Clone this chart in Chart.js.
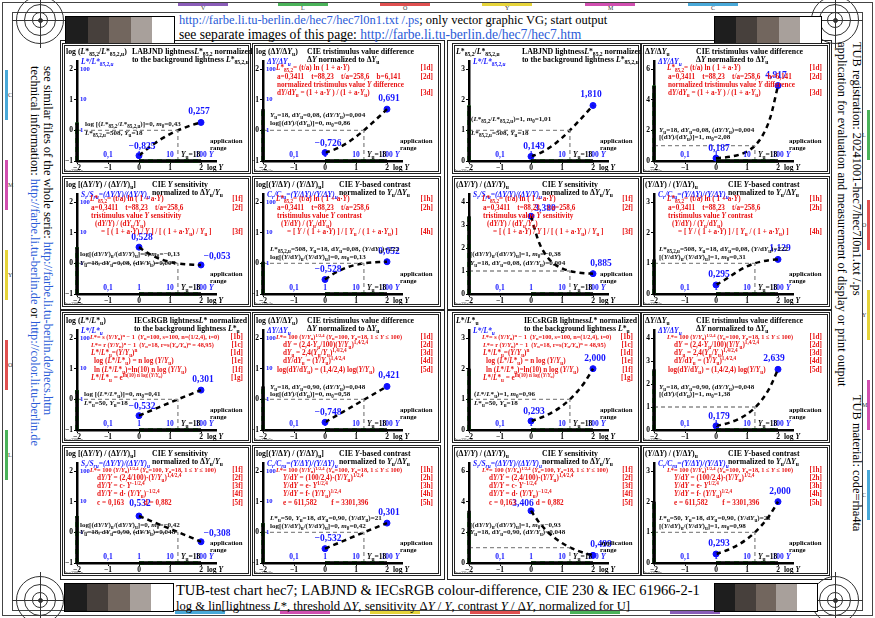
<!DOCTYPE html>
<html><head><meta charset="utf-8">
<script src="https://cdn.jsdelivr.net/npm/chart.js@4.4.1/dist/chart.umd.min.js"></script>
<style>
html,body{margin:0;padding:0;background:#fff;}
body{width:875px;height:618px;position:relative;overflow:hidden;font-family:'Liberation Serif','Times New Roman',serif;}
.a{position:absolute;white-space:nowrap;}
.box{position:absolute;box-sizing:border-box;}
canvas{position:absolute;}
.tt{font-weight:bold;font-size:7.8px;line-height:8px;color:#000;}
.rd{font-weight:bold;font-size:7.2px;line-height:8px;color:#e81414;}
.rs{font-size:6.3px;}
.bk{font-weight:bold;font-size:7.1px;line-height:8px;color:#111;}
.bl{font-weight:bold;font-size:7.5px;line-height:8px;color:#1414ff;font-style:italic;}
.ap{font-weight:bold;font-size:6.8px;line-height:7px;color:#000;}
.mini{font-size:4.5px;line-height:5px;color:#333;}
.hd1{font-size:12.5px;line-height:16px;color:#000;}
.hd2{font-size:13.6px;line-height:16px;color:#000;}
.ft1{font-size:14.5px;line-height:16px;color:#000;}
.ft2{font-size:12.6px;line-height:16px;color:#000;}
.sd{font-size:12.4px;line-height:14px;color:#000;transform-origin:0 0;transform:rotate(90deg);}
.u{color:#2a5bd7;}
sub{font-size:72%;vertical-align:-0.3em;line-height:0;}
sup{font-size:72%;vertical-align:0.55em;line-height:0;}
.leg{position:absolute;height:3px;background:repeating-linear-gradient(90deg,#22cc22 0 5px,#000 5px 8px);}
.ring{position:absolute;border:1px solid #333;border-radius:50%;box-sizing:border-box;}
.seg{position:absolute;}
.lt{position:absolute;font-size:6px;line-height:6px;color:#333;}
</style></head><body>
<script>
Chart.defaults.font.family = "'Liberation Serif', serif";
Chart.defaults.animation = false;

// ---------- data ----------
const logYGrid     = [0, 0.25, 0.5, 0.75, 1, 1.25, 1.5, 1.75, 2];
const labLightLog  = [-0.825, -0.617, -0.429, -0.264, -0.122, -0.002, 0.099, 0.185, 0.257];
const labDiffLog   = [-0.726, -0.648, -0.536, -0.389, -0.209, -0.005, 0.218, 0.451, 0.691];
const labSensLog   = [0.528, 0.357, 0.219, 0.116, 0.046, 0.000, -0.027, -0.044, -0.053];
const labContrLog  = [-0.528, -0.357, -0.219, -0.116, -0.046, 0.000, 0.027, 0.044, 0.052];
const iecLightLog  = [-0.532, -0.425, -0.320, -0.213, -0.107, -0.002, 0.100, 0.200, 0.301];
const iecDiffLog   = [-0.748, -0.602, -0.456, -0.310, -0.163, -0.017, 0.129, 0.275, 0.421];
const iecSensLog   = [0.532, 0.428, 0.323, 0.219, 0.115, 0.011, -0.094, -0.198, -0.308];
const iecContrLog  = [-0.532, -0.425, -0.320, -0.213, -0.107, -0.002, 0.100, 0.200, 0.301];
const labLightLin  = [0.149, 0.241, 0.373, 0.545, 0.756, 0.995, 1.256, 1.530, 1.810];
const labDiffLin   = [0.187, 0.225, 0.291, 0.409, 0.618, 0.990, 1.651, 2.826, 4.917];
const labSensLin   = [3.380, 2.275, 1.656, 1.306, 1.112, 1.000, 0.939, 0.904, 0.885];
const labContrLin  = [0.295, 0.440, 0.604, 0.766, 0.900, 1.000, 1.065, 1.106, 1.129];
const iecLightLin  = [0.293, 0.376, 0.479, 0.612, 0.782, 0.995, 1.259, 1.585, 2.000];
const iecDiffLin   = [0.179, 0.250, 0.350, 0.490, 0.687, 0.962, 1.346, 1.884, 2.639];
const iecSensLin   = [3.406, 2.679, 2.104, 1.656, 1.303, 1.026, 0.806, 0.634, 0.499];
const iecContrLin  = [0.293, 0.376, 0.479, 0.612, 0.782, 0.995, 1.259, 1.585, 2.000];

const xTickVals  = [-2, -1, 0, 1, 2];
const yTicksLog  = [-1, 0, 1, 2];
const yTicks3    = [0, 1, 2, 3];
const yTicks4    = [0, 1, 2, 3, 4];
const yTicks6    = [0, 2, 4, 6];
const blueXVals  = [-1, 0, 1, 2];
const blueXText  = ['0,1', '1', '10', '100'];
const blueYVals  = [0, 1, 2];
const blueYText  = ['1', '10', '100'];
const logYu      = 1.255;   // log 18

// ---------- layout ----------
const COLS = [{x:62,w:189,ax:15},{x:252,w:189,ax:11},{x:452,w:189,ax:17},{x:641,w:189,ax:13}];
const ROWS = [{y:43,h:131},{y:176,h:131},{y:312,h:131},{y:445,h:131}];

function div(cls, x, y, html, extra){
  const d=document.createElement('div'); d.className=cls; d.style.left=x+'px'; d.style.top=y+'px';
  if(html!==undefined) d.innerHTML=html; if(extra) Object.assign(d.style, extra);
  document.body.appendChild(d); return d;
}
function fmtTick(v){ return v<0 ? '\u2212'+Math.abs(v) : String(v); }
function fmtVal(v){ return (v<0?'\u2212':'')+Math.abs(v).toFixed(3).replace('.',','); }

// ---------- text snippets ----------
const Y='<i>Y</i>', Yu='<i>Y</i><sub>u</sub>', L85='<i>L</i>*<sub>85,2</sub>', L85u='<i>L</i>*<sub>85,2,u</sub>';
const Ls='<i>L</i>*', Lu='<i>L</i>*<sub>u</sub>', dY='d<i>Y</i>', dYu='d<i>Y</i><sub>u</sub>';
const DY='Δ<i>Y</i>', DYu='Δ<i>Y</i><sub>u</sub>', m0='<i>m</i><sub>0</sub>', sp='&nbsp;&nbsp;&nbsp;';

const trLab  = [`LABJND lightness${L85} normalized`, `to the background lightness ${L85u}`];
const trDiff = ['CIE tristimulus value difference', `${DY} normalized to ${DYu}`];
const trSens = [`CIE ${Y} sensitivity`, `normalized to ${DYu}/${Yu}`];
const trCon  = [`CIE ${Y}-based contrast`, `normalized to ${Yu}/${DYu}`];
const trIec  = [`IECsRGB lightness${Ls} normalized`, `to the background lightness ${Lu}`];
const axSens = `<i>S</i><sub>r</sub>/<i>S</i><sub>ru</sub>=(${DY}/${Y})/(${DY}/${Y})<sub>u</sub>`;
const axCon  = `<i>C</i><sub>r</sub>/<i>C</i><sub>ru</sub>=(${Y}/${DY})/(${Y}/${DY})<sub>u</sub>`;

const labL1 = `${L85}= (t/a) ln ( 1 + a·${Y})`;
const labL2 = `a=0,3411${sp} t=88,23${sp} t/a=258,6`;
const redDiff = [[13,25,labL1,'[1d]'],[14,34,labL2+`${sp} b=6,141`,'[2d]'],[14,42,`normalized tristimulus value ${Y} difference`,''],[14,50,`${dY}/${dYu} = (1 + a·${Y} ) / (1 + a·${Yu})`,'[3d]']];
const redSens = [[13,23,labL1,'[1f]'],[14,32,labL2,'[2f]'],[14,40,`tristimulus value ${Y} sensitivity`,''],[18,48,`(${dY}/${Y}) / (${dYu}/${Yu})`,''],[24,56,`= [ ( 1 + a·${Y}) / ${Y} ] / [ ( 1 + a·${Yu}) / ${Yu} ]`,'[3f]']];
const redCon  = [[13,23,labL1,'[1h]'],[14,32,labL2,'[2h]'],[14,40,`tristimulus value ${Y} contrast`,''],[18,48,`(${Y}/${dY}) / (${Yu}/${dYu})`,''],[24,56,`= [ ${Y} / ( 1 + a·${Y}) ] / [ ${Yu} / ( 1 + a·${Yu}) ]`,'[4h]']];
const redIec  = [[13,25,`${Ls}= s (${Y}/${Yu})<sup>n</sup> − 1 &nbsp;(${Yu}=100, s=100, n=(1/2,4), t=0)`,'[1b]',1],
                 [14,33,`${Ls}= r (${Y}/${Yu})<sup>n</sup> − 1 &nbsp;(${Yu}=18, r=s(${Yu}/${Yu})<sup>n</sup> = 48,95)`,'[1c]',1],
                 [14,41,`${Ls}/${Lu}=(${Y}/${Yu})<sup>n</sup>`,'[1d]'],
                 [17,49,`log (${Ls}/${Lu}) = n log (${Y}/${Yu})`,'[1e]'],
                 [17,58,`ln (${Ls}/${Lu})=ln(10) n log (${Y}/${Yu})`,'[1f]'],
                 [14,66,`${Ls}/${Lu} = e<sup>ln(10) n log (${Y}/${Yu})</sup>`,'[1g]']];
const iecL1 = `${Ls}= 100 (${Y}/${Yu})<sup>1/2,4</sup> (${Yu}=100, ${Yu}=18, 1 ≤ ${Y} ≤ 100)`;
const redIDiff = [[13,25,iecL1,'[1d]',1],[20,33,`${dY} = (2,4·${Yu}/100)(${Y}/${Yu})<sup>1,4/2,4</sup>`,'[2d]'],[20,41,`${dYu} = 2,4(${Yu}/${Yu})<sup>1,4/2,4</sup>`,'[3d]'],[20,49,`${dY}/${dYu} = (${Y}/${Yu})<sup>1,4/2,4</sup>`,'[4d]'],[14,58,`log(${dY}/${dYu}) = (1,4/2,4) log(${Y}/${Yu})`,'[5d]']];
const redISens = [[13,25,iecL1,'[1f]',1],[20,33,`${dY}/${Y} = (2,4/100)·(${Y}/${Yu})<sup>1,4/2,4</sup>`,'[2f]'],[20,41,`${dY}/${Y} = c· ${Y}<sup>−1/2,4</sup>`,'[3f]'],[20,49,`${dY}/${Y} = d· (${Y}/${Yu})<sup>−1/2,4</sup>`,'[4f]'],[20,58,`c = 0,163 ${sp}${sp}${sp} d = 0,882`,'[5f]']];
const redICon  = [[13,25,iecL1,'[1h]',1],[20,33,`${Y}/${dY} = (100/2,4)·(${Y}/${Yu})<sup>1/2,4</sup>`,'[2h]'],[20,41,`${Y}/${dY} = e· ${Y}<sup>1/2,4</sup>`,'[3h]'],[20,49,`${Y}/${dY} = f· (${Y}/${Yu})<sup>1/2,4</sup>`,'[4h]'],[20,58,`e = 611,582 ${sp}${sp} f = 3301,396`,'[5h]']];

const bkLab08 = `${L85u}=508, ${Yu}=18`;
const bkD008  = `${Yu}=18, ${dYu}=0,08, (${dY}/${Yu})=0,004`;
const bkD090  = `${Yu}=18, ${dYu}=0,90, (${dY}/${Yu})=0,048`;

const panels = [
 {col:0,row:0,vals:labLightLog,yT:yTicksLog,ref:0,log:true,tl:`log (${L85}/${L85u})`,tr:trLab,trx:70,ax:`${Ls}/${L85u}`,red:[],
  bk:[[23,81,`log [(${L85}/${L85u})]=0, ${m0}=0,43`],[23,90,bkLab08]],lab:[[3,-7],[-2,-8]],tag:'hec7l0-1a'},
 {col:1,row:0,vals:labDiffLog,yT:yTicksLog,ref:0,log:true,tl:`log (${DY}/${DYu})`,tr:trDiff,trx:55,ax:`${DY}/${DYu}`,red:redDiff,
  bk:[[18,72,bkD008],[18,80,`log[(${dY})/(${dYu})]=0, ${m0}=0,86`]],lab:[[3,-7],[2,-8]],tag:'hec7l0-2a'},
 {col:0,row:1,vals:labSensLog,yT:yTicksLog,ref:0,log:true,tl:`log [(${DY}/${Y}) / (${DY}/${Y})<sub>u</sub>]`,tr:trSens,trx:90,ax:axSens,red:redSens,
  bk:[[18,78,`log[(${dY}/${Y})<sub>u</sub>/(${dY}/${Y})<sub>u</sub>]=0, ${m0}=−0,13`],[18,87,bkD008]],lab:[[3,-7],[16,-6]],tag:'hec7l0-3a'},
 {col:1,row:1,vals:labContrLog,yT:yTicksLog,ref:0,log:true,tl:`log[(${Y}/${DY}) / (${Y}/${DY})<sub>u</sub>]`,tr:trCon,trx:87,ax:axCon,red:redCon,
  bk:[[18,73,`${L85u}=508, ${Yu}=18, ${dYu}=0,08, (${Y}/${dYu})=222`],[18,81,`log[(${Y}/${dY})<sub>u</sub>/(${Y}/${dY})<sub>u</sub>]=0, ${m0}=0,13`]],lab:[[3,-8],[2,-8]],tag:'hec7l0-4a'},
 {col:0,row:2,vals:iecLightLog,yT:yTicksLog,ref:0,log:true,tl:`log (${Ls}/${Lu})`,tr:trIec,trx:72,ax:`${Ls}/${Lu}`,red:redIec,
  bk:[[22,82,`log [(${Ls}/${Lu})]=0, ${m0}=0,41`],[22,91,`${Lu}=50, ${Yu}=18`]],lab:[[3,-7],[2,-8]],tag:'hec7l0-5a'},
 {col:1,row:2,vals:iecDiffLog,yT:yTicksLog,ref:0,log:true,tl:`log (${DY}/${DYu})`,tr:trDiff,trx:55,ax:`${DY}/${DYu}`,red:redIDiff,
  bk:[[18,75,bkD090],[18,82,`log[(${dY})/(${dYu})]=0, ${m0}=0,58`]],lab:[[3,-7],[2,-8]],tag:'hec7l0-6a'},
 {col:0,row:3,vals:iecSensLog,yT:yTicksLog,ref:0,log:true,tl:`log [(${DY}/${Y}) / (${DY}/${Y})<sub>u</sub>]`,tr:trSens,trx:90,ax:axSens,red:redISens,
  bk:[[18,80,`log[(${dY}/${Y})<sub>u</sub>/(${dY}/${Y})<sub>u</sub>]=0, ${m0}=−0,42`],[18,87,bkD090]],lab:[[1,-10],[16,-6]],tag:'hec7l0-7a'},
 {col:1,row:3,vals:iecContrLog,yT:yTicksLog,ref:0,log:true,tl:`log[(${Y}/${DY}) / (${Y}/${DY})<sub>u</sub>]`,tr:trCon,trx:87,ax:axCon,red:redICon,
  bk:[[18,73,`${Lu}=50, ${Yu}=18, ${dYu}=0,90, (${Y}/${dYu})=21`],[18,81,`log[(${Y}/${dY})<sub>u</sub>/(${Y}/${dY})<sub>u</sub>]=0, ${m0}=0,42`]],lab:[[3,-8],[2,-8]],tag:'hec7l0-8a'},

 {col:2,row:0,vals:labLightLin,yT:yTicks3,ref:1,log:false,tl:`${L85}/${L85u}`,tr:trLab,trx:70,ax:`${Ls}/${L85u}`,red:[],
  bk:[[19,76,`(${L85}/${L85u})=1, ${m0}=1,01`],[19,90,bkLab08]],lab:[[3,-7],[-2,-8]],tag:'hec7l1-1a'},
 {col:3,row:0,vals:labDiffLin,yT:yTicks6,ref:1,log:false,tl:`${DY}/${DYu}`,tr:trDiff,trx:55,ax:`${DY}/${DYu}`,red:redDiff,
  bk:[[18,87,bkD008],[18,94,`[(${dY})/(${dYu})]=1, ${m0}=2,08`]],lab:[[3,-7],[-2,-8]],tag:'hec7l1-2a'},
 {col:2,row:1,vals:labSensLin,yT:yTicks4,ref:1,log:false,tl:`(${DY}/${Y}) / (${DY}/${Y})<sub>u</sub>`,tr:trSens,trx:90,ax:axSens,red:redSens,
  bk:[[18,78,`[(${dY}/${Y})<sub>u</sub>/(${dY}/${Y})<sub>u</sub>]=1, ${m0}=−0,38`],[18,87,bkD008]],lab:[[14,-5],[8,-8]],tag:'hec7l1-3a'},
 {col:3,row:1,vals:labContrLin,yT:yTicks3,ref:1,log:false,tl:`(${Y}/${DY}) / (${Y}/${DY})<sub>u</sub>`,tr:trCon,trx:87,ax:axCon,red:redCon,
  bk:[[18,73,`${L85u}=508, ${Yu}=18, ${dYu}=0,08, (${Y}/${dYu})=222`],[18,81,`[(${Y}/${dY})<sub>u</sub>/(${Y}/${dY})<sub>u</sub>]=1, ${m0}=0,31`]],lab:[[3,-8],[2,-8]],tag:'hec7l1-4a'},
 {col:2,row:2,vals:iecLightLin,yT:yTicks3,ref:1,log:false,tl:`${Ls}/${Lu}`,tr:trIec,trx:72,ax:`${Ls}/${Lu}`,red:redIec,
  bk:[[22,82,`(${Ls}/${Lu})=1, ${m0}=0,96`],[22,91,`${Lu}=50, ${Yu}=18`]],lab:[[3,-7],[2,-8]],tag:'hec7l1-5a'},
 {col:3,row:2,vals:iecDiffLin,yT:yTicks4,ref:1,log:false,tl:`${DY}/${DYu}`,tr:trDiff,trx:55,ax:`${DY}/${DYu}`,red:redIDiff,
  bk:[[18,75,bkD090],[18,82,`[(${dY})/(${dYu})]=1, ${m0}=1,38`]],lab:[[3,-7],[-4,-8]],tag:'hec7l1-6a'},
 {col:2,row:3,vals:iecSensLin,yT:yTicks6,ref:1,log:false,tl:`(${DY}/${Y}) / (${DY}/${Y})<sub>u</sub>`,tr:trSens,trx:90,ax:axSens,red:redISens,
  bk:[[18,80,`[(${dY}/${Y})<sub>u</sub>/(${dY}/${Y})<sub>u</sub>]=1, ${m0}=−0,93`],[18,87,bkD090]],lab:[[-8,-5],[8,-8]],tag:'hec7l1-7a'},
 {col:3,row:3,vals:iecContrLin,yT:yTicks3,ref:1,log:false,tl:`(${Y}/${DY}) / (${Y}/${DY})<sub>u</sub>`,tr:trCon,trx:87,ax:axCon,red:redICon,
  bk:[[18,73,`${Lu}=50, ${Yu}=18, ${dYu}=0,90, (${Y}/${dYu})=21`],[18,81,`[(${Y}/${dY})<sub>u</sub>/(${Y}/${dY})<sub>u</sub>]=1, ${m0}=0,98`]],lab:[[3,-8],[2,-8]],tag:'hec7l1-8a'}
];

// ---------- page decoration ----------
div('box',2,2,undefined,{width:871+'px',height:614+'px',border:'1px solid #444'});
div('box',12,12,undefined,{width:851+'px',height:599+'px',border:'1px solid #444'});
div('box',60,40,undefined,{width:385+'px',height:270+'px',border:'1px solid #222'});
div('box',60,310,undefined,{width:385+'px',height:270+'px',border:'1px solid #222'});
div('box',447,40,undefined,{width:385+'px',height:270+'px',border:'1px solid #222'});
div('box',447,310,undefined,{width:385+'px',height:270+'px',border:'1px solid #222'});

const segTop = [['V',178,'#8a5db8'],['L',278,'#4bb35a'],['O',380,'#e05050'],['Y',482,'#e6d43a'],['M',585,'#d14fb0'],['C',688,'#49a9d9']];
segTop.forEach(s=>{ div('seg',s[1],3,undefined,{width:'50px',height:'3px',background:s[2]}); div('lt',s[1]+23,5,s[0]); });
const segBot = [['C',175,'#49a9d9'],['M',280,'#d14fb0'],['Y',370,'#e6d43a'],['O',470,'#e05050'],['L',570,'#4bb35a'],['V',670,'#8a5db8']];
segBot.forEach(s=>{ div('seg',s[1],611,undefined,{width:'50px',height:'3px',background:s[2]}); });
const segL = [['C',70,'#49a9d9'],['M',160,'#d14fb0'],['Y',250,'#e6d43a'],['O',340,'#e05050'],['L',430,'#4bb35a']];
segL.forEach(s=>{ div('seg',5,s[1],undefined,{width:'3px',height:'50px',background:s[2]}); div('lt',8,s[1]+22,s[0]); });
const segR = [['L',110,'#4bb35a'],['O',200,'#e05050'],['Y',290,'#e6d43a'],['M',380,'#d14fb0'],['C',470,'#49a9d9']];
segR.forEach(s=>{ div('seg',867,s[1],undefined,{width:'3px',height:'50px',background:s[2]}); div('lt',862,s[1]+22,s[0]); });

[[40,20],[835,20],[40,600],[835,600]].forEach(c=>{
  [24,16,8].forEach(r=>div('ring',c[0]-r,c[1]-r,undefined,{width:2*r+'px',height:2*r+'px'}));
  div('seg',c[0]-28,c[1],undefined,{width:'56px',height:'1px',background:'#333'});
  div('seg',c[0],c[1]-28,undefined,{width:'1px',height:'56px',background:'#333'});
  div('ring',c[0]-2,c[1]-2,undefined,{width:'5px',height:'5px',background:'#333'});
});

const wedge = ['#1e1e1e','#47403c','#72665e','#a8a09b','#ffffff'];
function drawWedge(x,y,w,h){
  div('box',x,y,undefined,{width:w+'px',height:h+'px',border:'1px solid #000'});
  wedge.forEach((c,i)=>div('seg',x+1+i*(w-2)/5,y+1,undefined,{width:((w-2)/5+0.5)+'px',height:(h-2)+'px',background:c}));
}
drawWedge(65,16,110,28); drawWedge(714,16,108,28); drawWedge(64,583,110,29); drawWedge(714,583,104,29);

div('a hd1',179,12,'<span class="u">http://farbe.li.tu-berlin.de/hec7/hec7l0n1.txt /.ps</span>; only vector graphic VG; start output');
div('a hd2',179,27,'see separate images of this page: <span class="u">http://farbe.li.tu-berlin.de/hec7/hec7.htm</span>');
div('a ft1',176,582,'TUB-test chart hec7; LABJND &amp; IECsRGB colour-difference, CIE 230 &amp; IEC 61966-2-1');
div('a ft2',176,598,`log &amp; lin[lightness ${Ls}, threshold Δ${Y}, sensitivity Δ${Y} / ${Y}, contrast ${Y} / Δ${Y}, normalized for U]`);

div('a sd',55,66,'see similar files of the whole serie: <span class="u">http://farbe.li.tu-berlin.de/hecs.htm</span>');
div('a sd',42,66,'technical information: <span class="u">http://farbe.li.tu-berlin.de</span> or <span class="u">http://color.li.tu-berlin.de</span>');
div('a sd',864,42,'TUB registration: 20241001-hec7/hec7l0n1.txt /.ps');
div('a sd',849,42,'application for evaluation and measurement of display or print output');
div('a sd',864,395,'TUB material: code=rha4ta');

// ---------- panels ----------
function makeAnnot(p){
  return {id:'annot', afterDraw(chart){
    const ctx=chart.ctx, xs=chart.scales.x, ys=chart.scales.y, ca=chart.chartArea;
    const blue='#1414ff', F="'Liberation Serif'";
    ctx.save();
    ctx.fillStyle=blue; ctx.font=`bold 6.6px ${F}`;
    ctx.textBaseline='middle'; ctx.textAlign='left';
    if(p.log) blueYVals.forEach((v,i)=>ctx.fillText(blueYText[i], ca.left+3, ys.getPixelForValue(v)));
    ctx.font=`bold 7.5px ${F}`;
    ctx.textAlign='center'; ctx.textBaseline='alphabetic';
    const yb=ca.bottom-4;
    blueXVals.forEach((v,i)=>ctx.fillText(blueXText[i], xs.getPixelForValue(v), yb));
    ctx.textAlign='left'; ctx.font=`bold italic 7.5px ${F}`;
    ctx.fillText('Y', xs.getPixelForValue(2)+8, yb);
    ctx.fillStyle='#000';
    let x0=xs.getPixelForValue(logYu)+3;
    ctx.fillText('Y',x0,yb); x0+=ctx.measureText('Y').width;
    ctx.font=`bold 5.5px ${F}`; ctx.fillText('u',x0,yb+2); x0+=ctx.measureText('u').width;
    ctx.font=`bold 7.5px ${F}`; ctx.fillText('=18',x0,yb);
    ctx.textBaseline='middle';
    let lx=xs.getPixelForValue(2)+6; const ly=ca.bottom+7;
    ctx.fillText('log',lx,ly); lx+=ctx.measureText('log ').width;
    ctx.font=`bold italic 7.5px ${F}`; ctx.fillText('Y',lx,ly);
    ctx.font=`bold 9.5px ${F}`; ctx.fillStyle=blue; ctx.textAlign='center'; ctx.textBaseline='alphabetic';
    [0,p.vals.length-1].forEach((i,k)=>{
      const o=p.lab[k];
      ctx.fillText(fmtVal(p.vals[i]), xs.getPixelForValue(logYGrid[i])+o[0], ys.getPixelForValue(p.vals[i])+o[1]);
    });
    ctx.restore();
  }};
}

panels.forEach(p=>{
  const c=COLS[p.col], r=ROWS[p.row];
  div('box',c.x,r.y,undefined,{width:c.w+'px',height:r.h+'px',border:'3px double #222'});
  const cv=document.createElement('canvas'); cv.width=c.w; cv.height=r.h;
  cv.style.left=c.x+'px'; cv.style.top=r.y+'px'; document.body.appendChild(cv);
  const yMin=p.yT[0], yTop=p.yT[p.yT.length-1];
  const yMax=yTop+(yTop-yMin)*0.0833;
  const plotH=92*1.0833, axisH=13, plotW=31*4.5;
  const topPad=r.h-axisH-plotH, rightPad=c.w-c.ax-plotW;
  const pts=logYGrid.map((x,i)=>({x:x,y:p.vals[i]}));
  const vmax=Math.max(...p.vals);
  const line=(data,color,w,dash)=>({data:data,showLine:true,borderColor:color,borderWidth:w,borderDash:dash||[],pointRadius:0,clip:false,fill:false});
  const datasets=[
    line([{x:0,y:yMin},{x:2,y:yMin}],'#000',3.5),
    line([{x:0,y:yMin},{x:2,y:yMin}],'#22cc22',3.5,[5,4]),
    line([{x:-2,y:yMin},{x:-2,y:vmax}],'#000',3.5),
    line([{x:-2,y:yMin},{x:-2,y:vmax}],'#22cc22',3.5,[5,4]),
    line([{x:-2,y:p.ref},{x:logYu,y:p.ref}],'#8a8a8a',1.3,[4,3]),
    line([{x:logYu,y:yMin},{x:logYu,y:p.ref}],'#8a8a8a',1.3,[4,3]),
    Object.assign(line(pts,'#000',2.5,[5,4]),{cubicInterpolationMode:'monotone'}),
    {data:[pts[0],pts[pts.length-1]],showLine:false,pointRadius:3,pointBackgroundColor:'#1010ff',pointBorderColor:'#1010ff',clip:false}
  ];
  const tickFont={size:7.5,weight:'bold',family:"'Liberation Serif', serif"};
  new Chart(cv,{type:'scatter',data:{datasets:datasets},
    options:{responsive:false,animation:false,devicePixelRatio:1,
      layout:{padding:{top:topPad,right:rightPad,left:0,bottom:0}},
      plugins:{legend:{display:false},tooltip:{enabled:false}},
      scales:{
        x:{type:'linear',min:-2,max:2.5,position:'bottom',
           afterBuildTicks:s=>{s.ticks=xTickVals.map(v=>({value:v}));},
           afterFit:s=>{s.height=axisH;},
           grid:{display:true,drawOnChartArea:false,drawTicks:true,tickLength:3,color:'#000',lineWidth:1},
           border:{display:true,color:'#000',width:2.5},
           ticks:{font:tickFont,color:'#000',padding:0,maxRotation:0,autoSkip:false,callback:v=>fmtTick(v)}},
        y:{type:'linear',min:yMin,max:yMax,position:'left',
           afterBuildTicks:s=>{s.ticks=p.yT.map(v=>({value:v}));},
           afterFit:s=>{s.width=c.ax;},
           grid:{display:true,drawOnChartArea:false,drawTicks:true,tickLength:3,color:'#000',lineWidth:1},
           border:{display:true,color:'#000',width:2.5},
           ticks:{font:tickFont,color:'#000',padding:1,autoSkip:false,callback:v=>fmtTick(v)}}
      }},
    plugins:[makeAnnot(p)]});

  div('a tt',c.x+4,r.y+5,p.tl);
  div('a tt',c.x+p.trx,r.y+5,p.tr[0]);
  div('a tt',c.x+p.trx,r.y+13,p.tr[1]);
  div('a bl',c.x+c.ax+4,r.y+15,p.ax);
  p.red.forEach(l=>{
    div('a rd'+(l[4]?' rs':''),c.x+c.ax+l[0],r.y+l[1]-4,l[2]);
    if(l[3]) div('a rd',0,r.y+l[1]-4,l[3],{left:'auto',right:(875-(c.x+c.w-8))+'px'});
  });
  p.bk.forEach(l=>div('a bk',c.x+l[0],r.y+l[1]-4,l[2]));
  div('leg',c.x+147,r.y+90);
  div('a ap',c.x+148,r.y+94,'application<br>range');
  div('a mini',c.x+3,r.y+r.h-6,p.tag);
});
</script>
</body></html>
